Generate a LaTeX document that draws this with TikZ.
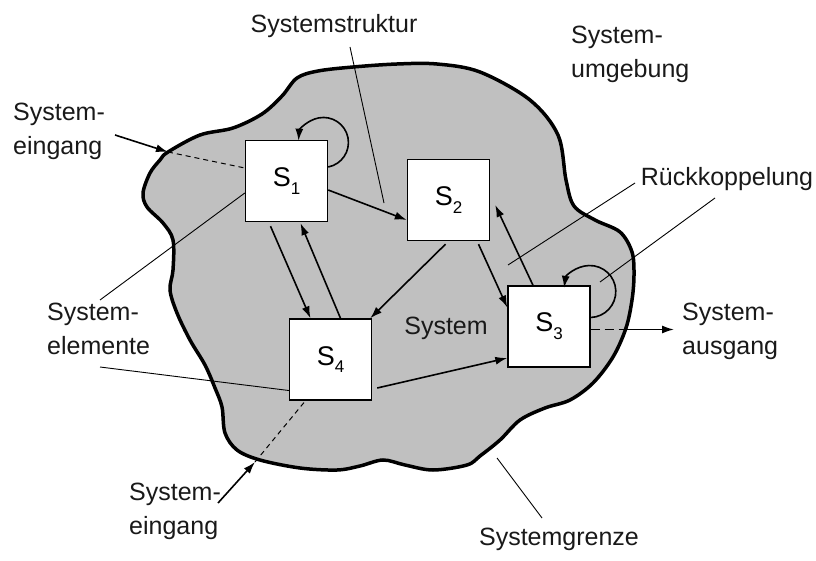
\documentclass[tikz,border=0pt]{standalone}
\usepackage{fontspec}
\setmainfont{Liberation Sans}
\usetikzlibrary{arrows.meta}
\definecolor{blobgray}{RGB}{192,192,192}
\newcommand{\subidx}[1]{\raisebox{-0.55ex}{\fontsize{17}{17}\selectfont #1}}
\begin{document}
\begin{tikzpicture}[x=1pt,y=-1pt,
  sbox/.style={draw=black,line width=1.4pt,fill=white,minimum width=82pt,minimum height=81pt,inner sep=0pt,font=\fontsize{27}{27}\selectfont},
  lbl/.style={inner sep=0pt,font=\fontsize{25}{34}\selectfont,align=left,text=black!90},
  arr/.style={line width=1.6pt,-{Latex[length=12pt,width=8pt]}},
  lead/.style={line width=0.9pt},
  dsh/.style={line width=1pt,dash pattern=on 5pt off 4pt}]
\useasboundingbox (0,0) rectangle (816,561);
% system boundary
\draw[line width=3.5pt,fill=blobgray] plot[smooth cycle,tension=0.55] coordinates {
(168,152) (200,135) (233,128) (262,114) (282,96) (297,78) (318,71) (353,67) (397,64) (437,64) (480,72) (530,100) (558,135) (566,180) (574,206) (595,220) (620,232) (632,252) (634,275) (632,300) (626,328) (613,357) (593,383) (570,400) (545,408) (520,420) (500,440) (480,456) (467,465) (433,470) (405,465) (383,460) (360,466) (337,470) (300,468) (260,460) (237,450) (225,433) (222,407) (215,388) (205,365) (190,340) (177,313) (170,290) (173,270) (173,240) (163,223) (147,207) (143,193) (150,173) (160,160)};
% elements
\node[sbox] (S1) at (286.5,181) {S\subidx{1}};
\node[sbox] (S2) at (448.5,200) {S\subidx{2}};
\node[sbox] (S3) at (549,326.5) {S\subidx{3}};
\node[sbox] (S4) at (330.5,359.5) {S\subidx{4}};
% labels
\node[lbl] (lstruk) at (334,26) {Systemstruktur};
\node[lbl,anchor=north west] (lumg) at (571,26) {System-\\umgebung};
\node[lbl,anchor=north west] (lein1) at (13,103) {System-\\eingang};
\node[lbl,anchor=north west] (lelem) at (47,303) {System-\\elemente};
\node[lbl] (lsys) at (446,328) {System};
\node[lbl,anchor=north west] (laus) at (682,303) {System-\\ausgang};
\node[lbl,anchor=north west] (lein2) at (129,483) {System-\\eingang};
\node[lbl] (lgrenze) at (559,539) {Systemgrenze};
\node[lbl] (lrueck) at (727,179) {Rückkoppelung};
% free-end coordinates
\coordinate (st1) at (350,47);
\coordinate (st2) at (384,203);
\coordinate (e1a) at (115,135);
\coordinate (e1b) at (168,152);
\coordinate (e2a) at (218,503);
\coordinate (e2b) at (255,462);
\coordinate (el1) at (100,300);
\coordinate (el2) at (100,367);
\coordinate (r1a) at (635,183);
\coordinate (r1b) at (508,265);
\coordinate (r2a) at (715,198);
\coordinate (r2b) at (600,282);
\coordinate (g1) at (497,458);
\coordinate (g2) at (542,518);
\coordinate (ob) at (628,329.5);
\coordinate (oend) at (674,329.5);
% structure arrows
\draw[arr] ([yshift=-9pt]S1.east) -- ([yshift=-20pt]S2.west);
\draw[arr] ([xshift=-16pt,yshift=-4pt]S1.south) -- ([xshift=-20pt]S4.north);
\draw[arr] ([xshift=10pt]S4.north) -- ([xshift=14pt,yshift=-1pt]S1.south);
\draw[arr] ([xshift=-3pt,yshift=-3pt]S2.south) -- ([xshift=-2pt]S4.north east);
\draw[arr] ([xshift=30pt,yshift=-3pt]S2.south) -- ([yshift=19pt]S3.west);
\draw[arr] ([xshift=-16pt]S3.north) -- ([xshift=5pt,yshift=-5pt]S2.east);
\draw[arr] ([xshift=5pt,yshift=-28.5pt]S4.east) -- ([yshift=-31.5pt]S3.west);
% self loops
\draw[arr] ([yshift=14pt]S1.east) arc[start angle=-79,end angle=176,radius=25pt];
\draw[arr] ([yshift=9pt]S3.east) arc[start angle=-88,end angle=172,radius=26pt];
% output
\draw[line width=1.6pt,dash pattern=on 9pt off 5pt] ([yshift=-3pt]S3.east) -- (ob);
\draw[arr] (ob) -- (oend);
% inputs
\draw[arr] (e1a) -- (e1b);
\draw[dsh] (e1b) -- ([yshift=13pt]S1.west);
\draw[arr] (e2a) -- (e2b);
\draw[dsh] (e2b) -- ([xshift=-25pt]S4.south);
% leaders
\draw[lead] (st1) -- (st2);
\draw[lead] (el1) -- ([yshift=-12pt]S1.west);
\draw[lead] (el2) -- ([yshift=-31pt]S4.west);
\draw[lead] (r1a) -- (r1b);
\draw[lead] (r2a) -- (r2b);
\draw[lead] (g1) -- (g2);
\end{tikzpicture}
\end{document}
